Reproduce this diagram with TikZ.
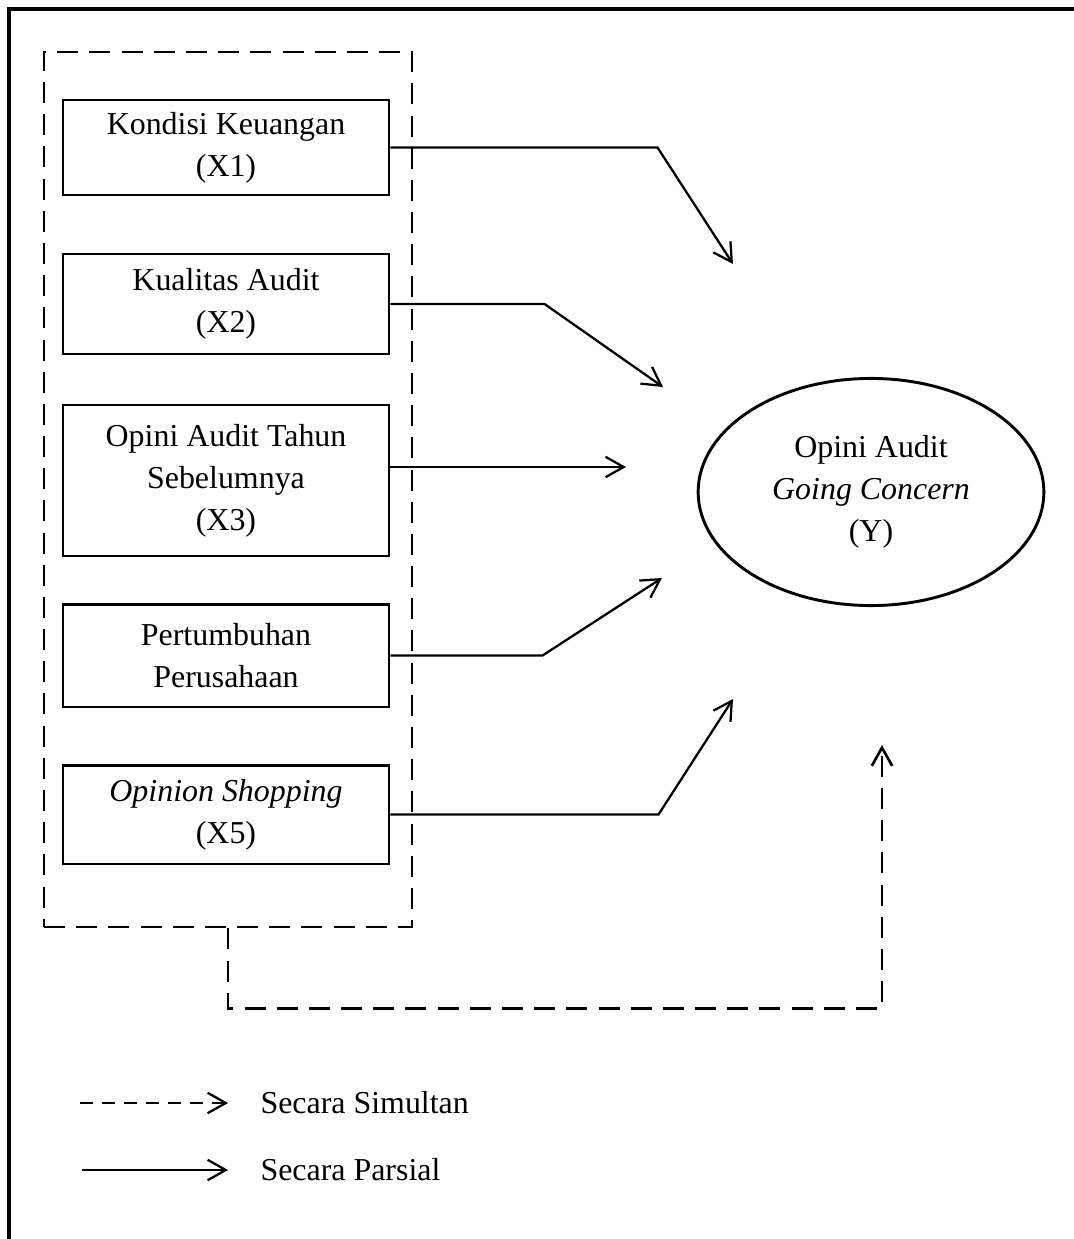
\documentclass[tikz,border=0pt]{standalone}
\usepackage{fontspec}
\setmainfont{Liberation Serif}
\usepackage{tikz}
\usetikzlibrary{arrows.meta}
\usetikzlibrary{shapes.geometric}
\newcommand{\partarrow}{\draw[-{Straight Barb[length=2.4mm,width=2.7mm]}, line width=0.85pt]}
\newcommand{\simularrow}{\draw[-{Straight Barb[length=2.4mm,width=2.7mm]}, line width=1pt, dash pattern=on 7.9pt off 4.2pt]}
\tikzset{
    varbox/.style={draw, line width=1.1pt, minimum width=122.6pt, align=center, inner sep=0pt,
        font=\fontsize{12}{15.8}\selectfont},
    groupbox/.style={draw, line width=1pt, dash pattern=on 7.9pt off 4.2pt,
        minimum width=138.4pt, minimum height=329pt, inner sep=0pt},
}

\begin{document}
\begin{tikzpicture}[x=0.376pt, y=-0.376pt]
    \useasboundingbox (0,0) rectangle (1074,1239);

    % Draw frame
    \coordinate (fbl) at (9,1239);
    \coordinate (ftl) at (9,9);
    \coordinate (ftr) at (1074,9);
    \draw[line width=1.3pt] (fbl) -- (ftl) -- (ftr);

    % Draw independent variables
    \node[groupbox] (grp) at (228,489.5) {};
    \node[varbox, minimum height=35.7pt] (x1) at (226,147.5) {Kondisi Keuangan\\(X1)};
    \node[varbox, minimum height=37.6pt] (x2) at (226,304) {Kualitas Audit\\(X2)};
    \node[varbox, minimum height=56.8pt] (x3) at (226,480.5) {Opini Audit Tahun\\Sebelumnya\\(X3)};
    \node[varbox, minimum height=38.7pt] (x4) at (226,655.5) {Pertumbuhan\\Perusahaan};
    \node[varbox, minimum height=37.2pt] (x5) at (226,814.5) {\textit{Opinion Shopping}\\(X5)};

    % Draw dependent variable
    \node[ellipse, draw, line width=1.1pt, minimum width=130pt, minimum height=85.4pt, inner sep=0pt,
        align=center, font=\fontsize{12}{15.8}\selectfont] (y) at (871,492)
        {Opini Audit\\\textit{Going Concern}\\(Y)};

    % Draw partial effects
    \coordinate (t1) at (733,264);
    \coordinate (t2) at (663,387);
    \coordinate (t3) at (626,467);
    \coordinate (t4) at (662,578);
    \coordinate (t5) at (733,699);
    \partarrow (x1.east) -- ++(267,0) -- (t1);
    \partarrow (x2.east) -- ++(154,0) -- (t2);
    \partarrow (x3.east |- t3) -- (t3);
    \partarrow (x4.east) -- ++(152,0) -- (t4);
    \partarrow (x5.east) -- ++(268,0) -- (t5);

    % Draw simultaneous effect
    \coordinate (ty) at (882,745);
    \simularrow (grp.south) -- ++(0,80) -- ++(654,0) -- (ty);

    % Legend
    \node[anchor=west, inner sep=0pt, font=\fontsize{12}{15.8}\selectfont] (legsim) at (260,1103) {Secara Simultan};
    \node[anchor=west, inner sep=0pt, font=\fontsize{12}{15.8}\selectfont] (legpar) at (260,1170) {Secara Parsial};
    \coordinate (ls) at (80,1103);
    \coordinate (lp) at (82,1170);
    \draw[-{Straight Barb[length=2.4mm,width=2.7mm]}, line width=0.85pt, dash pattern=on 4.9pt off 3.4pt,
        shorten >=12pt] (ls) -- (legsim.west);
    \partarrow[shorten >=12pt] (lp) -- (legpar.west);
\end{tikzpicture}
\end{document}
